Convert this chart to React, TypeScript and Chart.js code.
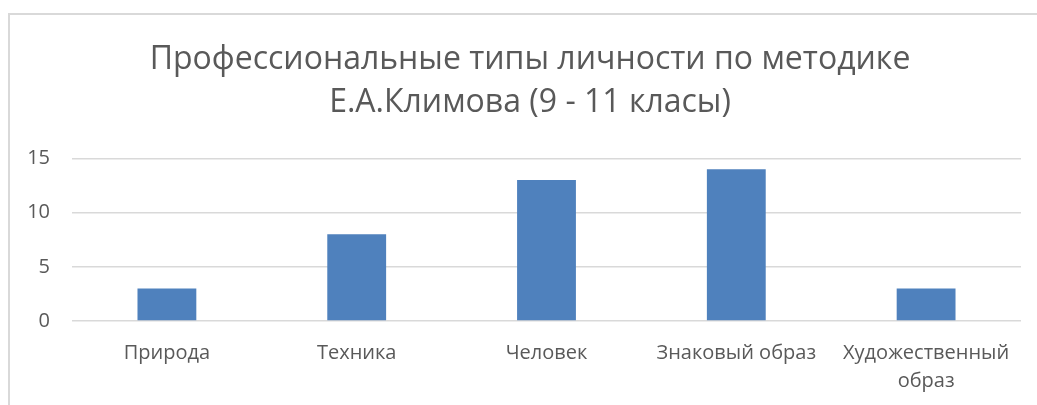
import React, { useEffect, useRef } from "react";
import { Chart, registerables } from "chart.js";

Chart.register(...registerables);

const titleLines = ["Профессиональные типы личности по методике", "Е.А.Климова (9 - 11 класы)"];
const categories: (string | string[])[] = [
  "Природа",
  "Техника",
  "Человек",
  "Знаковый образ",
  ["Художественный", "образ"],
];
const values = [3, 8, 13, 14, 3];
const yTicks = [0, 5, 10, 15];

export default function App() {
  const ref = useRef<HTMLCanvasElement | null>(null);
  useEffect(() => {
    document.documentElement.style.overflow = "hidden";
    document.body.style.overflow = "hidden";
    if (!ref.current) return;
    const chart = new Chart(ref.current, {
      type: "bar",
      data: {
        labels: categories,
        datasets: [
          {
            data: values,
            backgroundColor: "#4f81bd",
            borderWidth: 0,
            categoryPercentage: 1,
            barPercentage: 0.31,
          },
        ],
      },
      options: {
        animation: false,
        responsive: false,
        layout: { padding: { left: 0, right: 0, top: 0, bottom: 0 } },
        plugins: {
          legend: { display: false },
          tooltip: { enabled: false },
          title: {
            display: true,
            text: titleLines,
            color: "#595959",
            font: { family: "'Open Sans'", size: 32, weight: "normal", lineHeight: 1.35 },
            padding: { top: 23, bottom: 34 },
          },
        },
        scales: {
          x: {
            grid: { display: false, drawTicks: false },
            border: { display: false },
            ticks: {
              color: "#595959",
              font: { family: "'Open Sans'", size: 20, lineHeight: 1.4 },
              padding: 18,
              maxRotation: 0,
              autoSkip: false,
            },
          },
          y: {
            min: 0,
            max: 15,
            afterBuildTicks: (axis: any) => {
              axis.ticks = yTicks.map((v) => ({ value: v }));
            },
            afterFit: (axis: any) => {
              axis.width = 62;
            },
            grid: { color: "#d9d9d9", lineWidth: 1.5, drawTicks: false },
            border: { display: false },
            ticks: {
              color: "#595959",
              font: { family: "'Open Sans'", size: 20 },
              padding: 22,
            },
          },
          yPad: {
            type: "linear",
            position: "right",
            display: true,
            grid: { display: false, drawTicks: false },
            border: { display: false },
            ticks: { display: false },
            afterFit: (axis: any) => {
              axis.width = 29;
            },
          },
        },
      },
    });
    return () => chart.destroy();
  }, []);
  return (
    <div
      style={{
        position: "fixed",
        left: 8,
        top: 13,
        width: 1040,
        height: 392,
        overflow: "hidden",
        borderTop: "2px solid #d9d9d9",
        borderLeft: "2px solid #d9d9d9",
        background: "#fff",
      }}
    >
      <canvas ref={ref} width={1040} height={398} style={{ display: "block" }} />
    </div>
  );
}
